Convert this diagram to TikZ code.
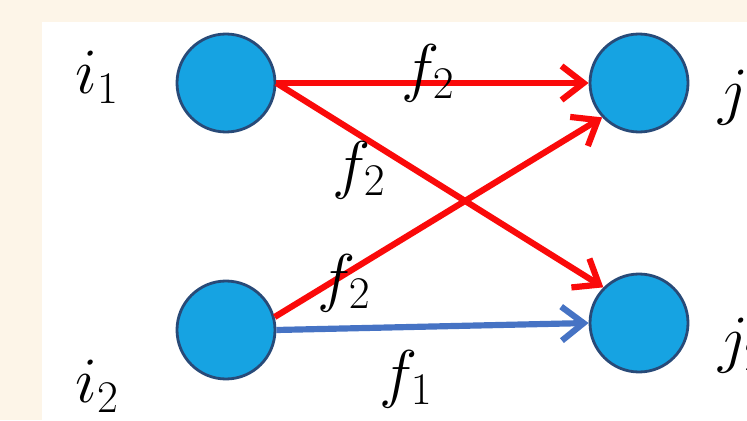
\documentclass[tikz,border=0pt]{standalone}
\usepackage{fix-cm}
\usetikzlibrary{arrows.meta}
\definecolor{pagebg}{RGB}{253,245,232}
\definecolor{nodefill}{RGB}{22,163,226}
\definecolor{nodeedge}{RGB}{40,74,120}
\definecolor{flowred}{RGB}{250,10,10}
\definecolor{flowblue}{RGB}{70,115,196}
\begin{document}
\begin{tikzpicture}[
    vertex/.style={circle, draw=nodeedge, fill=nodefill, line width=2pt, minimum size=2.45cm, inner sep=0pt},
    flow/.style={line width=4.4pt, -{Straight Barb[length=0.55cm,width=0.85cm]}},
    lab/.style={inner sep=0pt, font=\fontsize{46}{54}\selectfont}
  ]
    \useasboundingbox (0,0) rectangle (18.675,10.5);
    \clip (0,0) rectangle (18.675,10.5);
    \fill[pagebg] (0,0) rectangle (18.675,10.5);
    \fill[white] (1.05,0) rectangle (18.675,9.95);
    \node[vertex] (i1) at (5.65,8.425) {};
    \node[vertex] (i2) at (5.65,2.25) {};
    \node[vertex] (j1) at (15.975,8.425) {};
    \node[vertex] (j2) at (15.975,2.425) {};
    \draw[flow,flowred] (i1.east) -- (j1.west);
    \draw[flow,flowred] (i1.east) -- (j2.135);
    \draw[flow,flowred] (i2.15) -- (j1.223);
    \draw[flow,flowblue] (i2.east) -- (j2.west);
    \node[lab] (li1) at (2.425,8.575) {$i_1$};
    \node[lab] (li2) at (2.425,0.85) {$i_2$};
    \node[lab,anchor=west] (lj1) at (17.95,8.05) {$j_1$};
    \node[lab,anchor=west] (lj2) at (17.95,1.85) {$j_2$};
    \node[lab] (ftop) at (10.7,8.675) {$f_2$};
    \node[lab] (fmid) at (8.975,6.25) {$f_2$};
    \node[lab] (flow2) at (8.6,3.425) {$f_2$};
    \node[lab] (fbot) at (10.15,1.025) {$f_1$};
\end{tikzpicture}
\end{document}
